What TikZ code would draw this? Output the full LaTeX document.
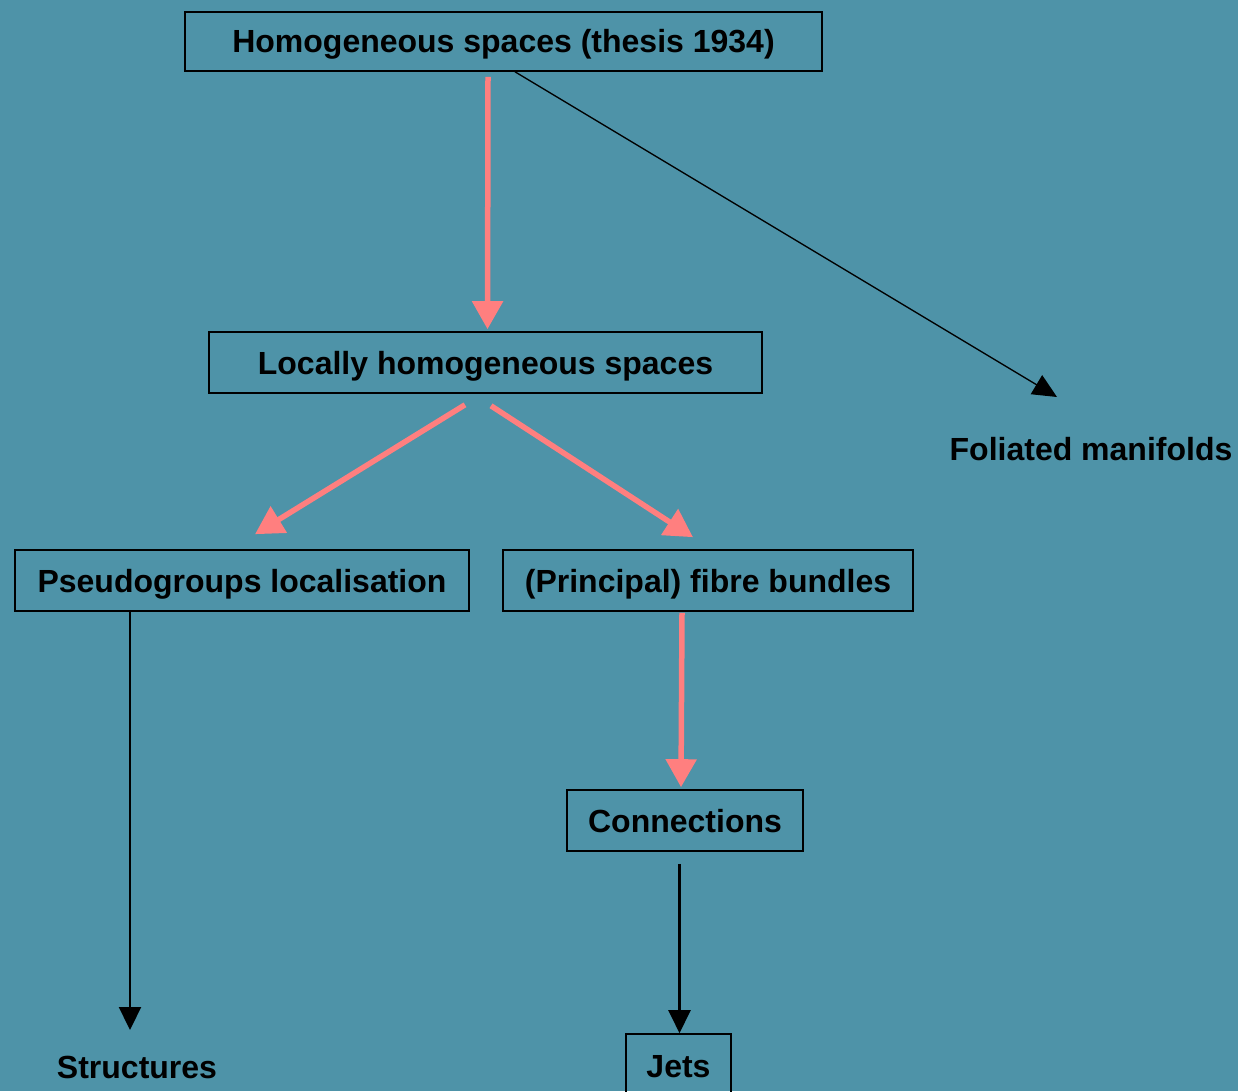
\documentclass[tikz,border=0pt]{standalone}
\usepackage{fontspec}
\setmainfont{Liberation Sans}
\usetikzlibrary{arrows.meta,calc}
\definecolor{bg}{HTML}{4E93A8}
\definecolor{pinkarrow}{HTML}{FF7F7F}
\tikzset{
  box/.style={draw=black,line width=1.6pt,inner sep=0pt,text height=23pt,text depth=0pt,font=\bfseries\fontsize{32}{38}\selectfont,text=black},
  lbl/.style={inner sep=0pt,text height=23pt,text depth=0pt,font=\bfseries\fontsize{32}{38}\selectfont,text=black},
  parrow/.style={draw=pinkarrow,line width=5.5pt,-{Triangle[length=28pt,width=30pt]}},
  barrow/.style={draw=black,line width=2.2pt,-{Triangle[length=23pt,width=22pt]}},
  tarrow/.style={draw=black,line width=1.3pt,-{Triangle[length=24pt,width=22pt]}}
}
\begin{document}
\begin{tikzpicture}[x=1pt,y=-1pt]
\fill[bg] (0,0) rectangle (1238,1091);
\useasboundingbox (0,0) rectangle (1238,1091);
\clip (0,0) rectangle (1238,1091);
\node[box,minimum width=637pt,minimum height=59pt] (top) at (503.5,41.5) {Homogeneous spaces (thesis 1934)};
\node[box,minimum width=553pt,minimum height=61pt] (loc) at (485.5,362.5) {Locally homogeneous spaces};
\node[box,minimum width=454pt,minimum height=61pt] (pseudo) at (242,580.5) {Pseudogroups localisation};
\node[box,minimum width=410pt,minimum height=61pt] (fibre) at (708,580.5) {(Principal) fibre bundles};
\node[box,minimum width=236pt,minimum height=61pt] (conn) at (685,820.5) {Connections};
\node[box,minimum width=105pt,minimum height=64pt] (jets) at (678.5,1066) {Jets};
\node[lbl] (struct) at (137,1067) {Structures};
\node[lbl] (fol) at (1091,449) {Foliated manifolds};
\coordinate (folin) at (1057,397);
\coordinate (structin) at (130,1030);
\draw[parrow] ($(top.south)+(-15.5,5)$) -- ($(loc.north)+(2,-2)$);
\draw[parrow] ($(loc.south)+(-20.5,11)$) -- ($(pseudo.north)+(13,-15)$);
\draw[parrow] ($(loc.south)+(5.5,12)$) -- ($(fibre.north)+(-15,-12)$);
\draw[parrow] ($(fibre.south)+(-26,1)$) -- ($(conn.north)+(-4,-2)$);
\draw[tarrow] ($(top.south)+(11.5,0)$) -- (folin);
\draw[barrow] ($(pseudo.south)+(-112,0)$) -- (structin);
\draw[barrow] ($(conn.south)+(-5.5,12)$) -- ($(jets.north)+(1,0)$);
\end{tikzpicture}
\end{document}
